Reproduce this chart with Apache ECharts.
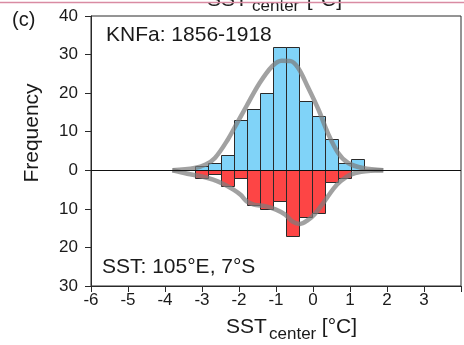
<!DOCTYPE html>
<html>
<head>
<meta charset="utf-8">
<script src="https://cdn.jsdelivr.net/npm/echarts@6/dist/echarts.min.js"></script>
<style>
html,body{margin:0;padding:0;background:#fff;}
#chart{width:464px;height:345px;}
</style>
</head>
<body>
<div id="chart"></div>
<script>
// ---- data ----
const binEdges = [-3.2,-2.85,-2.49,-2.14,-1.79,-1.44,-1.08,-0.73,-0.38,-0.03,0.32,0.67,1.03,1.38];
const upperCounts = [1,2,4,13,16,20,32,32,18,14,8,2,3];   // blue, above zero
const lowerCounts = [2,1,4,2,9,10,8,17,12,11,3,2,0];     // red, shown below zero
const upperCurveX = [-3.8,-3.2,-2.9,-2.65,-2.3,-2.05,-1.8,-1.45,-1.1,-0.85,-0.6,-0.4,-0.15,0.15,0.4,0.68,0.95,1.35,1.9];
const upperCurveY = [0,0.6,1.5,3.2,8,12.3,16.6,22.5,27,28.4,28.3,26.5,21.8,15.7,9.7,4.5,1.9,0.6,0];
const lowerCurveX = [-3.8,-3.4,-3.0,-2.7,-2.45,-2.15,-1.95,-1.8,-1.6,-1.3,-1.0,-0.75,-0.55,-0.35,-0.15,0.05,0.3,0.55,0.75,1.0,1.3,1.9];
const lowerCurveY = [0,-0.9,-1.6,-2.4,-3.4,-5,-6.4,-8,-8.9,-9.3,-10.2,-11.5,-13.3,-13.9,-13,-11.3,-8.2,-4.8,-2.8,-1.2,-0.4,0];
const xTicks = [-6,-5,-4,-3,-2,-1,0,1,2,3];
const yTicks = [-30,-20,-10,0,10,20,30,40];

const FONT = '"Liberation Sans", Arial, Helvetica, sans-serif';
const TXT = '#1a1a1a';

function barData(counts, sign) {
  return counts.map((c, i) => [binEdges[i], binEdges[i + 1], sign * c]);
}
function curve(xs, ys) { return xs.map((x, i) => [x, ys[i]]); }

function renderBar(color) {
  return function (params, api) {
    const p0 = api.coord([api.value(0), api.value(2)]);
    const p1 = api.coord([api.value(1), 0]);
    const x = Math.round(p0[0]) + 0.5;
    const x2 = Math.round(p1[0]) + 0.5;
    const ya = Math.round(Math.min(p0[1], p1[1])) + 0.5;
    const yb = Math.round(Math.max(p0[1], p1[1])) + 0.5;
    if (yb - ya < 0.5) return null;
    return {
      type: 'rect',
      shape: { x: x, y: ya, width: x2 - x, height: yb - ya },
      style: { fill: color, stroke: '#2a2a2a', lineWidth: 1 }
    };
  };
}

const chart = echarts.init(document.getElementById('chart'), null, { renderer: 'canvas' });
chart.setOption({
  animation: false,
  backgroundColor: '#fff',
  grid: { left: 91, top: 16, width: 378.5, height: 270, show: true, borderColor: '#2a2a2a', borderWidth: 1, backgroundColor: 'transparent' },
  xAxis: {
    type: 'value', min: -6, max: 4, interval: 1,
    axisLine: { show: true, onZero: false, lineStyle: { color: '#2a2a2a', width: 1 } },
    axisTick: { show: true, inside: false, length: 6, lineStyle: { color: '#2a2a2a' } },
    axisLabel: { margin: 6, fontSize: 17, color: TXT, fontFamily: FONT,
      formatter: v => xTicks.indexOf(v) >= 0 ? String(v) : '' },
    splitLine: { show: false }
  },
  yAxis: {
    type: 'value', min: -30, max: 40, interval: 10,
    axisLine: { show: true, onZero: false, lineStyle: { color: '#2a2a2a', width: 1 } },
    axisTick: { show: true, inside: false, length: 6, lineStyle: { color: '#2a2a2a' } },
    axisLabel: { margin: 13, fontSize: 17, color: TXT, fontFamily: FONT,
      formatter: v => yTicks.indexOf(v) >= 0 ? String(Math.abs(v)) : '' },
    splitLine: { show: false }
  },
  series: [
    { type: 'custom', renderItem: renderBar('#80d3f8'), data: barData(upperCounts, 1), encode: { x: [0, 1], y: 2 }, z: 2 },
    { type: 'custom', renderItem: renderBar('#fd4545'), data: barData(lowerCounts, -1), encode: { x: [0, 1], y: 2 }, z: 2 },
    { type: 'line', data: curve(upperCurveX, upperCurveY), smooth: 0.35, showSymbol: false, z: 4,
      lineStyle: { color: 'rgba(125,125,125,0.72)', width: 4.5 },
      markLine: { silent: true, symbol: 'none', label: { show: false },
        lineStyle: { color: '#111', width: 1, type: 'solid' }, data: [{ yAxis: 0 }] } },
    { type: 'line', data: curve(lowerCurveX, lowerCurveY), smooth: 0.35, showSymbol: false, z: 4,
      lineStyle: { color: 'rgba(125,125,125,0.72)', width: 4.5 } }
  ],
  graphic: [
    // cut-off title of the panel above
    { type: 'text', silent: true, position: [207, 0.5], style: { text: 'SST', font: '21px ' + FONT, fill: TXT, verticalAlign: 'middle' } },
    { type: 'text', silent: true, position: [252, 6], style: { text: 'center', font: '17px ' + FONT, fill: TXT, verticalAlign: 'middle' } },
    { type: 'text', silent: true, position: [301, 0.5], style: { text: ' [°C]', font: '21px ' + FONT, fill: TXT, verticalAlign: 'middle' } },
    { type: 'line', silent: true, shape: { x1: 0, y1: 2.5, x2: 464, y2: 2.5 }, style: { stroke: '#d98ba3', lineWidth: 1.5 } },
    // panel label
    { type: 'text', silent: true, position: [12, 20], style: { text: '(c)', font: '20px ' + FONT, fill: TXT, verticalAlign: 'middle' } },
    // y axis name
    { type: 'text', silent: true, position: [32, 133], rotation: Math.PI / 2,
      style: { text: 'Frequency', font: '21px ' + FONT, fill: TXT, align: 'center', verticalAlign: 'middle' } },
    // annotations
    { type: 'text', silent: true, position: [106, 35], style: { text: 'KNFa: 1856-1918', font: '21px ' + FONT, fill: TXT, verticalAlign: 'middle' } },
    { type: 'text', silent: true, position: [102, 267.5], style: { text: 'SST: 105°E, 7°S', font: '21px ' + FONT, fill: TXT, verticalAlign: 'middle' } },
    // x axis name
    { type: 'text', silent: true, position: [226, 327], style: { text: 'SST', font: '21px ' + FONT, fill: TXT, verticalAlign: 'middle' } },
    { type: 'text', silent: true, position: [269, 334], style: { text: 'center', font: '17px ' + FONT, fill: TXT, verticalAlign: 'middle' } },
    { type: 'text', silent: true, position: [316, 327], style: { text: ' [°C]', font: '21px ' + FONT, fill: TXT, verticalAlign: 'middle' } }
  ]
});
</script>
</body>
</html>
